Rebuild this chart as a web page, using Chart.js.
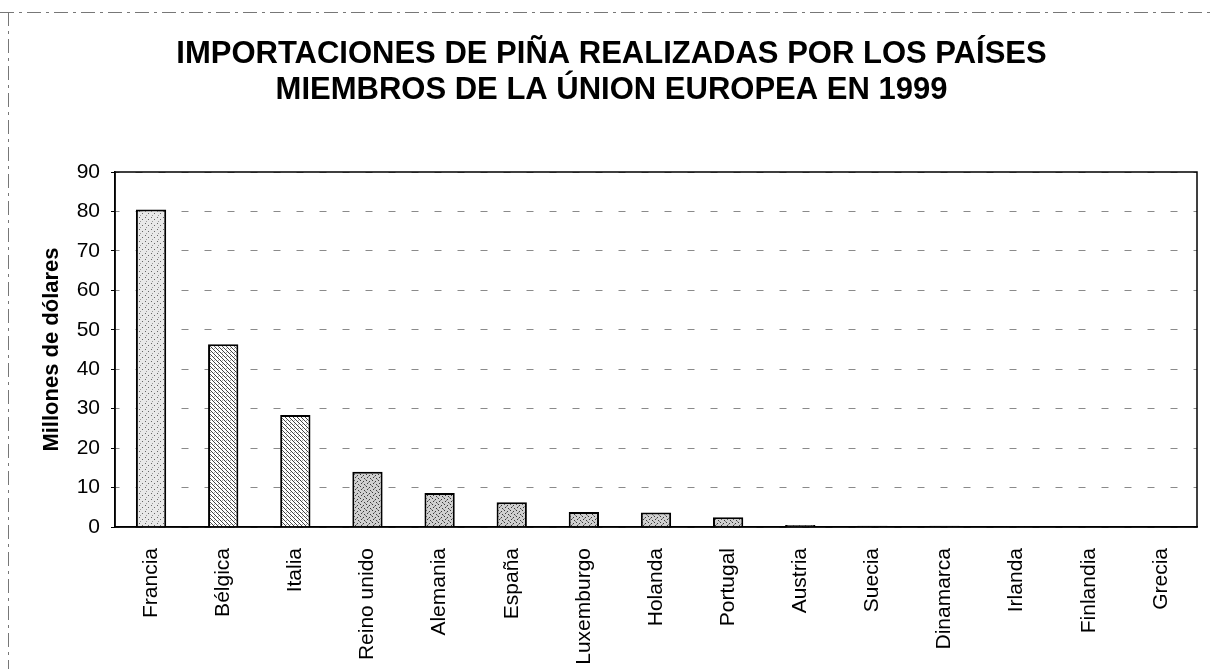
<!DOCTYPE html>
<html>
<head>
<meta charset="utf-8">
<script src="https://cdn.jsdelivr.net/npm/chart.js@4.4.1/dist/chart.umd.min.js"></script>
<style>
  html, body { margin: 0; padding: 0; background: #ffffff; }
  #wrap { width: 1211px; height: 669px; position: relative; }
</style>
</head>
<body>
<div id="wrap"><canvas id="c" width="1211" height="669"></canvas></div>
<script>
const titleLines = ["IMPORTACIONES DE PIÑA REALIZADAS POR LOS PAÍSES", "MIEMBROS DE LA ÚNION EUROPEA EN 1999"];
const yAxisTitle = "Millones de dólares";
const countries = ["Francia", "Bélgica", "Italia", "Reino unido", "Alemania", "España", "Luxemburgo", "Holanda", "Portugal", "Austria", "Suecia", "Dinamarca", "Irlanda", "Finlandia", "Grecia"];
const imports = [80.5, 46.3, 28.4, 14.0, 8.6, 6.3, 3.8, 3.7, 2.5, 0.5, 0.3, 0.3, 0.2, 0.1, 0.1];
const patternKinds = ["sparse", "hatch", "hatch", "dense", "dense", "dense", "dense", "dense", "dense", "dense", "dense", "dense", "dense", "dense", "dense"];
const yMin = 0, yMax = 90, yStep = 10;

const FONT = "'Liberation Sans', Arial, sans-serif";

function makePattern(kind) {
  const p = document.createElement('canvas');
  const s = kind === 'hatch' ? 4 : 6;
  p.width = s; p.height = s;
  const g = p.getContext('2d');
  g.fillStyle = '#ffffff';
  g.fillRect(0, 0, s, s);
  if (kind === 'hatch') {
    g.fillStyle = '#444444';
    for (let i = 0; i < s; i++) { g.fillRect(i, i, 1, 1); }
    g.fillStyle = '#aaaaaa';
    g.fillRect(2, 0, 1, 1);
  } else if (kind === 'sparse') {
    g.fillStyle = '#e8e8e8';
    g.fillRect(0, 0, s, s);
    g.fillStyle = '#666666';
    g.fillRect(1, 1, 1, 1);
    g.fillRect(4, 3, 1, 1);
    g.fillStyle = '#999999';
    g.fillRect(2, 5, 1, 1);
  } else {
    g.fillStyle = '#d0d0d0';
    g.fillRect(0, 0, s, s);
    g.fillStyle = '#3a3a3a';
    g.fillRect(0, 0, 1, 1);
    g.fillRect(3, 1, 1, 1);
    g.fillRect(1, 3, 1, 1);
    g.fillRect(4, 4, 1, 1);
    g.fillStyle = '#808080';
    g.fillRect(2, 2, 1, 1);
    g.fillRect(5, 5, 1, 1);
  }
  return g.createPattern(p, 'repeat');
}

const frame = {
  id: 'frame',
  beforeDraw(chart) {
    const ctx = chart.ctx;
    ctx.save();
    ctx.strokeStyle = '#777777';
    ctx.lineWidth = 1;
    ctx.setLineDash([14, 5, 3, 5]);
    ctx.beginPath();
    ctx.moveTo(0, 12.5); ctx.lineTo(1211, 12.5);
    ctx.moveTo(8.5, 12); ctx.lineTo(8.5, 669);
    ctx.stroke();
    ctx.restore();
  },
  afterDatasetsDraw(chart) {
    const a = chart.chartArea, ctx = chart.ctx;
    ctx.save();
    ctx.strokeStyle = '#000000';
    ctx.lineWidth = 1.5;
    ctx.strokeRect(a.left, a.top, a.right - a.left, a.bottom - a.top);
    ctx.restore();
  }
};

new Chart(document.getElementById('c'), {
  type: 'bar',
  data: {
    labels: countries,
    datasets: [{
      data: imports,
      backgroundColor: patternKinds.map(makePattern),
      borderColor: '#000000',
      borderWidth: 2,
      borderSkipped: 'bottom',
      barPercentage: 0.42,
      categoryPercentage: 1.0
    }]
  },
  options: {
    responsive: false,
    animation: false,
    layout: { padding: { left: 26, right: 14, top: 0, bottom: 0 } },
    plugins: {
      legend: { display: false },
      tooltip: { enabled: false },
      title: {
        display: true,
        text: titleLines,
        color: '#000000',
        font: { family: FONT, size: 31, weight: 'bold', lineHeight: 36 / 31 },
        padding: { top: 36, bottom: 64 }
      }
    },
    scales: {
      x: {
        grid: { display: false, drawTicks: false },
        border: { display: true, color: '#000000', width: 1.5 },
        ticks: {
          color: '#000000',
          font: { family: FONT, size: 21 },
          minRotation: 90, maxRotation: 90,
          padding: 21,
          autoSkip: false
        },
        afterFit(scale) { scale.height = 142; }
      },
      y: {
        min: yMin, max: yMax,
        ticks: {
          stepSize: yStep,
          color: '#000000',
          font: { family: FONT, size: 21 },
          padding: 11
        },
        grid: {
          color: '#8a8a8a',
          lineWidth: 1,
          drawTicks: true,
          tickLength: 4,
          tickColor: '#000000'
        },
        border: { display: true, color: '#000000', width: 1.5, dash: [7, 16], dashOffset: 3 },
        title: {
          display: true,
          text: yAxisTitle,
          color: '#000000',
          font: { family: FONT, size: 22, weight: 'bold' },
          padding: { top: 13, bottom: 0 }
        },
        afterFit(scale) { scale.width = 89; }
      }
    }
  },
  plugins: [frame]
});
</script>
</body>
</html>
